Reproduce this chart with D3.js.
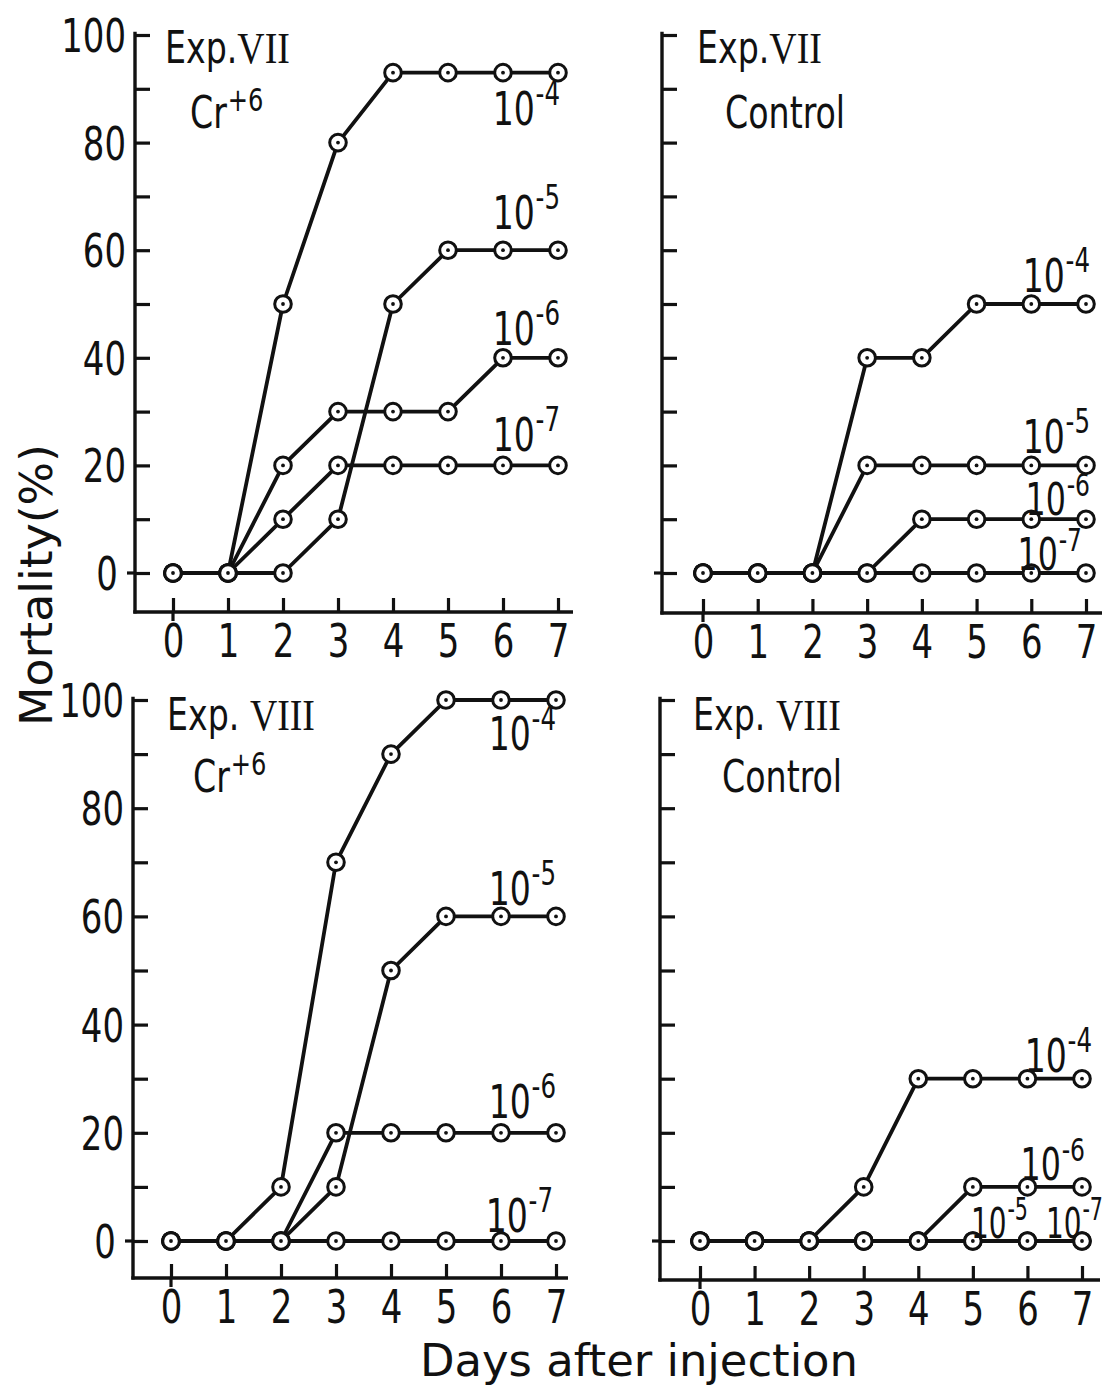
<!DOCTYPE html>
<html>
<head>
<meta charset="utf-8">
<script src="https://cdn.jsdelivr.net/npm/d3@7"></script>
<style>
  html, body { margin: 0; padding: 0; background: #fff; }
  svg { display: block; }
  text { font-family: "DejaVu Sans Condensed", "DejaVu Sans", sans-serif; fill: #111; }
</style>
</head>
<body>
<svg id="chart" width="1104" height="1395"></svg>
<script>
// ---------------- DATA ----------------
const days = [0, 1, 2, 3, 4, 5, 6, 7];
const xTickLabels = ["0", "1", "2", "3", "4", "5", "6", "7"];
const yTickLabels = [0, 20, 40, 60, 80, 100];
const concentrations = ["-4", "-5", "-6", "-7"];

// Exp. VII, Cr+6 (mortality %)
const exp7Cr_4 = [0, 0, 50, 80, 93, 93, 93, 93];
const exp7Cr_5 = [0, 0, 0, 10, 50, 60, 60, 60];
const exp7Cr_6 = [0, 0, 20, 30, 30, 30, 40, 40];
const exp7Cr_7 = [0, 0, 10, 20, 20, 20, 20, 20];
// Exp. VII, Control
const exp7Ct_4 = [0, 0, 0, 40, 40, 50, 50, 50];
const exp7Ct_5 = [0, 0, 0, 20, 20, 20, 20, 20];
const exp7Ct_6 = [0, 0, 0, 0, 10, 10, 10, 10];
const exp7Ct_7 = [0, 0, 0, 0, 0, 0, 0, 0];
// Exp. VIII, Cr+6
const exp8Cr_4 = [0, 0, 10, 70, 90, 100, 100, 100];
const exp8Cr_5 = [0, 0, 0, 10, 50, 60, 60, 60];
const exp8Cr_6 = [0, 0, 0, 20, 20, 20, 20, 20];
const exp8Cr_7 = [0, 0, 0, 0, 0, 0, 0, 0];
// Exp. VIII, Control
const exp8Ct_4 = [0, 0, 0, 10, 30, 30, 30, 30];
const exp8Ct_5 = [0, 0, 0, 0, 0, 0, 0, 0];
const exp8Ct_6 = [0, 0, 0, 0, 0, 10, 10, 10];
const exp8Ct_7 = [0, 0, 0, 0, 0, 0, 0, 0];

const panelTitles = [["Exp.", "VII", "Cr", "+6"], ["Exp.", "VII", "Control", ""],
                     ["Exp. ", "VIII", "Cr", "+6"], ["Exp. ", "VIII", "Control", ""]];

// ---------------- LAYOUT ----------------
// lab: [right x, baseline y, horizontal scale, font size]
const layouts = [
  { axisX: 135, axisRight: 573, xr: [173, 558], yr: [573, 35], axisY: 612, yLabels: true,
    t1: [165, 63], t2: [190, 128],
    lab: [[560, 125, 0.8, 46], [560, 229, 0.8, 46], [560, 345, 0.8, 46], [560, 451, 0.8, 46]] },
  { axisX: 662, axisRight: 1102, xr: [703, 1086], yr: [573, 35], axisY: 613, yLabels: false,
    t1: [697, 63], t2: [725, 128],
    lab: [[1090, 292, 0.8, 46], [1090, 453, 0.8, 46], [1090, 515, 0.8, 44], [1082, 570, 0.8, 44]] },
  { axisX: 133, axisRight: 568, xr: [171, 556], yr: [1241, 700], axisY: 1278, yLabels: true,
    t1: [167, 730], t2: [193, 792],
    lab: [[556, 750, 0.8, 46], [556, 905, 0.8, 46], [556, 1118, 0.8, 46], [553, 1232, 0.8, 46]] },
  { axisX: 660, axisRight: 1100, xr: [700, 1082], yr: [1241, 700], axisY: 1280, yLabels: false,
    t1: [693, 730], t2: [722, 792],
    lab: [[1092, 1072, 0.8, 46], [1028, 1238, 0.74, 42], [1085, 1180, 0.8, 44], [1103, 1238, 0.74, 42]] }
];

const panelSeries = [
  [exp7Cr_4, exp7Cr_5, exp7Cr_6, exp7Cr_7],
  [exp7Ct_4, exp7Ct_5, exp7Ct_6, exp7Ct_7],
  [exp8Cr_4, exp8Cr_5, exp8Cr_6, exp8Cr_7],
  [exp8Ct_4, exp8Ct_5, exp8Ct_6, exp8Ct_7]
];

const svg = d3.select("#chart");
const ink = "#111";
const NARROW = 0.82;

function placeText(g, x, y, s) {
  return g.append("text").attr("transform", `translate(${x},${y}) scale(${s},1)`);
}

layouts.forEach((L, pi) => {
  const x = d3.scaleLinear().domain([0, 7]).range(L.xr);
  const y = d3.scaleLinear().domain([0, 100]).range(L.yr);
  const g = svg.append("g");

  // axis lines
  g.append("line").attr("x1", L.axisX).attr("x2", L.axisX)
    .attr("y1", y(100.6)).attr("y2", L.axisY + 1.5)
    .attr("stroke", ink).attr("stroke-width", 3.4);
  g.append("line").attr("x1", L.axisX - 1.7).attr("x2", L.axisRight)
    .attr("y1", L.axisY).attr("y2", L.axisY)
    .attr("stroke", ink).attr("stroke-width", 3.4);

  // y ticks (inward) every 10
  const yAx = d3.axisRight(y).tickValues(d3.range(0, 101, 10)).tickSize(15).tickFormat("");
  const ya = g.append("g").attr("transform", `translate(${L.axisX},0)`).call(yAx);
  ya.select(".domain").remove();
  ya.selectAll(".tick line").attr("stroke", ink).attr("stroke-width", 3.2);
  g.append("line").attr("x1", L.axisX - 8).attr("x2", L.axisX)
    .attr("y1", y(0)).attr("y2", y(0)).attr("stroke", ink).attr("stroke-width", 3.2);

  if (L.yLabels) {
    const yl = d3.axisLeft(y).tickValues(yTickLabels).tickSize(0).tickPadding(0)
      .tickFormat(d => String(d));
    const yg = g.append("g").attr("transform", `translate(${L.axisX - 9},0)`).call(yl);
    yg.select(".domain").remove();
    yg.selectAll(".tick text").attr("font-size", 46)
      .attr("dy", "0.36em")
      .attr("x", d => d === 0 ? -10 : 0)
      .attr("transform", `scale(${NARROW},1)`)
      .style("font-family", '"DejaVu Sans Condensed", "DejaVu Sans", sans-serif')
      .attr("fill", ink);
  }

  // x ticks (upward)
  const xAx = d3.axisTop(x).tickValues(days).tickSize(14).tickFormat("");
  const xa = g.append("g").attr("transform", `translate(0,${L.axisY})`).call(xAx);
  xa.select(".domain").remove();
  xa.selectAll(".tick line").attr("stroke", ink).attr("stroke-width", 3.2);
  g.append("line").attr("x1", x(0)).attr("x2", x(0))
    .attr("y1", L.axisY).attr("y2", L.axisY + 9).attr("stroke", ink).attr("stroke-width", 3.2);

  const xl = d3.axisBottom(x).tickValues(days).tickSize(0).tickPadding(12)
    .tickFormat((d, i) => xTickLabels[i]);
  const xg = g.append("g").attr("transform", `translate(0,${L.axisY})`).call(xl);
  xg.select(".domain").remove();
  xg.selectAll(".tick text").attr("font-size", 46).attr("dy", "0.72em")
    .attr("transform", `scale(${NARROW},1)`)
    .style("font-family", '"DejaVu Sans Condensed", "DejaVu Sans", sans-serif')
    .attr("fill", ink);

  // titles
  const T = panelTitles[pi];
  const t1 = placeText(g, L.t1[0], L.t1[1], 0.84).attr("font-size", 44);
  t1.append("tspan").text(T[0]);
  t1.append("tspan").text(T[1]).style("font-family", '"Liberation Serif", "DejaVu Serif", serif')
    .attr("font-size", 45);
  const t2 = placeText(g, L.t2[0], L.t2[1], 0.84).attr("font-size", 44);
  t2.append("tspan").text(T[2]);
  if (T[3]) t2.append("tspan").text(T[3]).attr("font-size", 32).attr("dy", -17).attr("dx", 1);

  // series
  const line = d3.line().x((d, i) => x(days[i])).y(d => y(d));
  const series = panelSeries[pi];
  series.forEach(vals => {
    g.append("path").attr("d", line(vals)).attr("fill", "none")
      .attr("stroke", ink).attr("stroke-width", 3.8).attr("stroke-linejoin", "round");
  });
  series.forEach(vals => {
    const mg = g.append("g");
    mg.selectAll("circle.m").data(vals).join("circle")
      .attr("cx", (d, i) => x(days[i])).attr("cy", d => y(d)).attr("r", 8.3)
      .attr("fill", "#fff").attr("stroke", ink).attr("stroke-width", 3);
    mg.selectAll("circle.c").data(vals).join("circle")
      .attr("cx", (d, i) => x(days[i])).attr("cy", d => y(d)).attr("r", 1.9)
      .attr("fill", ink);
  });

  // series labels
  concentrations.forEach((c, si) => {
    const p = L.lab[si];
    const fs = p[3];
    const tx = placeText(g, p[0], p[1], p[2]).attr("text-anchor", "end").attr("font-size", fs);
    tx.append("tspan").text("10");
    tx.append("tspan").text(c).attr("font-size", fs * 0.74).attr("dy", -fs * 0.43).attr("dx", 1);
  });
});

// axis titles
svg.append("text")
  .attr("transform", "translate(52,585) rotate(-90)")
  .attr("text-anchor", "middle").attr("font-size", 44)
  .attr("textLength", 282).attr("lengthAdjust", "spacingAndGlyphs")
  .text("Mortality(%)");
svg.append("text")
  .attr("x", 639).attr("y", 1376)
  .attr("text-anchor", "middle").attr("font-size", 45)
  .attr("textLength", 438).attr("lengthAdjust", "spacingAndGlyphs")
  .text("Days after injection");
</script>
</body>
</html>
